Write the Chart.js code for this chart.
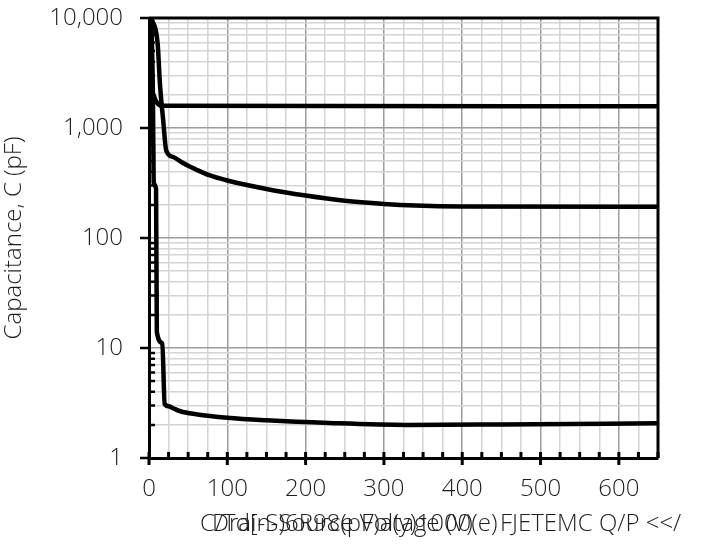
<!DOCTYPE html>
<html>
<head>
<meta charset="utf-8">
<title>Capacitance vs Drain-Source Voltage</title>
<script src="https://cdn.jsdelivr.net/npm/chart.js@4.4.1/dist/chart.umd.min.js"></script>
<style>
    html, body { margin: 0; padding: 0; background: #fff; }
    #wrap { width: 710px; height: 550px; }
</style>
</head>
<body>
<div id="wrap"><canvas id="cap-chart" width="710" height="550"></canvas></div>
<script>
// Data (V, pF)
const cissV = [0, 5, 9, 16, 650];
const cissC = [2150, 2050, 1750, 1590, 1580];

const cossV = [3, 11, 14, 18, 22, 31, 44, 60, 76, 100, 150, 200, 250, 300, 340, 400, 650];
const cossC = [10000, 5900, 2500, 1200, 625, 545, 478, 420, 374, 333, 279, 243, 218, 204, 197, 193, 192];

const crssV = [3, 5, 6, 9, 10, 17, 20, 25, 30, 40, 60, 100, 150, 230, 330, 450, 650];
const crssC = [10000, 2000, 320, 280, 14, 11, 3.1, 2.95, 2.85, 2.66, 2.5, 2.32, 2.2, 2.08, 2.0, 2.02, 2.07];

// Axis ticks
const xTickLabels = [0, 100, 200, 300, 400, 500, 600];
const yDecades = [1, 10, 100, 1000, 10000];
const yDecadeLabels = ['1', '10', '100', '1,000', '10,000'];
const yGridValues = [
    1, 2, 3, 4, 5, 6, 7, 8, 9,
    10, 20, 30, 40, 50, 60, 70, 80, 90,
    100, 200, 300, 400, 500, 600, 700, 800, 900,
    1000, 2000, 3000, 4000, 5000, 6000, 7000, 8000, 9000,
    10000
];

const yTitle = 'Capacitance, C (pF)';
const xTitle = 'Drain-Source Voltage (V)';
const xTitleOverlay = 'C/Td[-S)6R98(pF)a(y)1000(e)';
const xTitleTail = 'FJETEMC Q/P <</';

const textColor = '#1e1e1e';
const fontFamily = "'Open Sans', 'Noto Sans', sans-serif";
const tickFont = { family: fontFamily, size: 24, weight: '300' };

function toPoints(xs, ys) {
    return xs.map((v, i) => ({ x: v, y: ys[i] }));
}

function makeSeries(label, xs, ys) {
    return {
        label: label,
        data: toPoints(xs, ys),
        borderColor: '#000',
        borderWidth: 4.5,
        pointRadius: 0,
        fill: false,
        cubicInterpolationMode: 'monotone'
    };
}

// Draws inward minor ticks, outward major ticks, the top/right frame and the x title
const frameAndTicks = {
    id: 'frameAndTicks',
    afterDatasetsDraw(chart) {
        const { ctx, chartArea: a, scales: { x, y } } = chart;
        ctx.save();
        ctx.strokeStyle = '#000';

        ctx.lineWidth = 2.5;
        ctx.beginPath();
        yGridValues.forEach(v => {
            const py = y.getPixelForValue(v);
            if (yDecades.includes(v)) {
                ctx.moveTo(a.left - 9, py);
                ctx.lineTo(a.left, py);
            } else {
                ctx.moveTo(a.left, py);
                ctx.lineTo(a.left + 6, py);
            }
        });
        ctx.stroke();

        ctx.lineWidth = 3;
        ctx.beginPath();
        x.ticks.forEach(t => {
            const px = x.getPixelForValue(t.value);
            ctx.moveTo(px, a.bottom - 6);
            ctx.lineTo(px, xTickLabels.includes(t.value) ? a.bottom + 7 : a.bottom);
        });
        ctx.stroke();

        ctx.beginPath();
        ctx.moveTo(a.left, a.top);
        ctx.lineTo(a.right, a.top);
        ctx.lineTo(a.right, a.bottom);
        ctx.stroke();
        ctx.restore();
    },
    afterDraw(chart) {
        const ctx = chart.ctx;
        ctx.save();
        ctx.fillStyle = textColor;
        ctx.font = '300 24px ' + fontFamily;
        ctx.textBaseline = 'middle';
        ctx.textAlign = 'left';
        ctx.fillText(xTitle, 212, 524);
        ctx.fillText(xTitleOverlay, 200, 524);
        ctx.fillText(xTitleTail, 500, 524);
        ctx.restore();
    }
};

function initChart() {
    const ctx = document.getElementById('cap-chart').getContext('2d');
    new Chart(ctx, {
        type: 'line',
        data: {
            datasets: [
                makeSeries('Ciss', cissV, cissC),
                makeSeries('Coss', cossV, cossC),
                makeSeries('Crss', crssV, crssC)
            ]
        },
        options: {
            responsive: false,
            animation: false,
            layout: { padding: { top: 18, right: 52, left: 0, bottom: 0 } },
            plugins: {
                legend: { display: false },
                tooltip: { enabled: false }
            },
            scales: {
                x: {
                    type: 'linear',
                    min: 0,
                    max: 650,
                    afterFit: s => {
                        s.height = 92;
                        s.paddingLeft = 0;
                        s.paddingRight = 0;
                    },
                    ticks: {
                        stepSize: 25,
                        autoSkip: false,
                        maxRotation: 0,
                        padding: 17,
                        color: textColor,
                        font: tickFont,
                        callback: v => xTickLabels.includes(v) ? String(v) : ''
                    },
                    grid: {
                        drawTicks: false,
                        lineWidth: 1.5,
                        color: c => (c.tick && xTickLabels.includes(c.tick.value)) ? '#9c9c9c' : '#d4d4d4'
                    },
                    border: { color: '#000', width: 3 }
                },
                y: {
                    type: 'logarithmic',
                    min: 1,
                    max: 10000,
                    afterFit: s => {
                        s.width = 149;
                        s.paddingTop = 0;
                        s.paddingBottom = 0;
                    },
                    afterBuildTicks: s => { s.ticks = yGridValues.map(v => ({ value: v })); },
                    ticks: {
                        autoSkip: false,
                        padding: 26,
                        color: textColor,
                        font: tickFont,
                        callback: v => {
                            const i = yDecades.indexOf(v);
                            return i >= 0 ? yDecadeLabels[i] : '';
                        }
                    },
                    grid: {
                        drawTicks: false,
                        lineWidth: 1.5,
                        color: c => (c.tick && yDecades.includes(c.tick.value)) ? '#9c9c9c' : '#d4d4d4'
                    },
                    border: { color: '#000', width: 3 },
                    title: {
                        display: true,
                        text: yTitle,
                        color: textColor,
                        font: { family: fontFamily, size: 24, weight: '300' },
                        padding: { top: 0, bottom: 0 }
                    }
                }
            }
        },
        plugins: [frameAndTicks]
    });
}

document.addEventListener('DOMContentLoaded', initChart);
</script>
</body>
</html>
